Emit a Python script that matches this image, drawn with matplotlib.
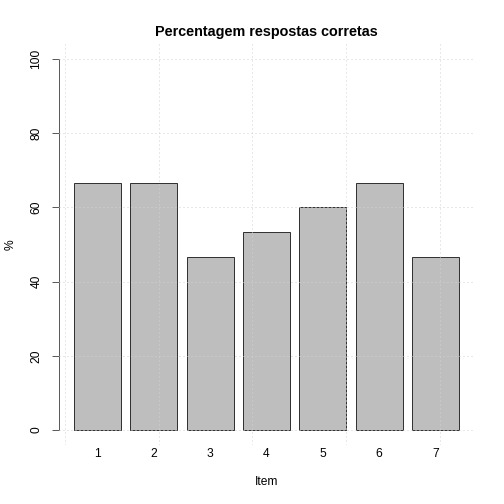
import numpy as np
import matplotlib
matplotlib.use("Agg")
import matplotlib.pyplot as plt

plt.rcParams["font.family"] = ["Liberation Sans", "DejaVu Sans"]

# Data: percent of correct answers per item
items = ["1", "2", "3", "4", "5", "6", "7"]
pct = [66.7, 66.7, 46.7, 53.3, 60.0, 66.7, 46.7]
yticks = [0, 20, 40, 60, 80, 100]

fig = plt.figure(figsize=(7, 7), dpi=72)
W = H = 504.0
left, right, top, bottom = 58.6, 474.4, 44.2, 444.8
ax = fig.add_axes([left / W, 1 - bottom / H, (right - left) / W, (bottom - top) / H])

# R barplot layout: width 1, space 0.2
xpos = 0.7 + 1.2 * np.arange(len(items))
ax.bar(xpos, pct, width=1.0, color="#bebebe", edgecolor="#333333", linewidth=1.0, zorder=2)

ax.set_xlim(-0.128, 8.728)
ax.set_ylim(-4, 104)

# grid drawn over the bars, like grid() after barplot
for gx in [0, 2, 4, 6, 8]:
    ax.axvline(gx, color="#d3d3d3", linestyle=(0, (1, 3)), linewidth=1.0, zorder=3)
for gy in yticks:
    ax.axhline(gy, color="#d3d3d3", linestyle=(0, (1, 3)), linewidth=1.0, zorder=3)

for s in ["top", "right", "bottom"]:
    ax.spines[s].set_visible(False)
ax.spines["left"].set_bounds(0, 100)
ax.spines["left"].set_color("#333333")

ax.set_yticks(yticks)
ax.set_yticklabels([str(v) for v in yticks], rotation=90, va="center", fontsize=12)
ax.tick_params(axis="y", length=7, pad=9, color="#333333")
ax.set_xticks(xpos)
ax.set_xticklabels(items, fontsize=12)
ax.tick_params(axis="x", length=0, pad=3)

ax.set_xlabel("Item", fontsize=12, labelpad=16)
ax.set_ylabel("%", fontsize=12, labelpad=14)
ax.set_title("Percentagem respostas corretas", fontsize=14.4, fontweight="bold", pad=8)

fig.savefig("out.png", dpi=72)
